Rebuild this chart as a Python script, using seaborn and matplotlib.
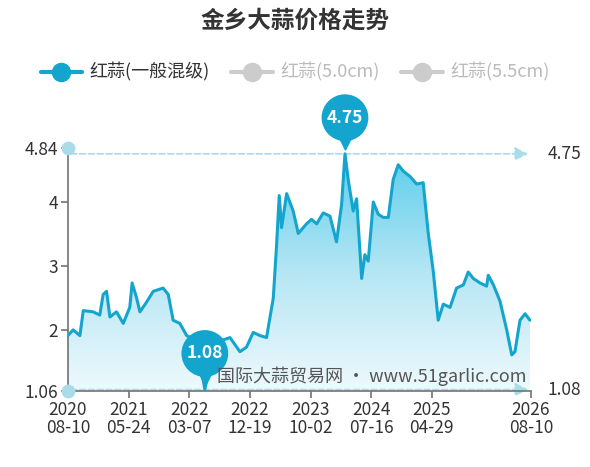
import numpy as np
import matplotlib
matplotlib.use("Agg")
import matplotlib.pyplot as plt
import seaborn as sns
from matplotlib.lines import Line2D

sns.set_theme(style="white")
plt.rcParams['font.family'] = ['Noto Sans CJK SC', 'DejaVu Sans']

# days since 2020-08-10, price (yuan/jin)
days = [0, 25, 57, 73, 120, 151, 167, 183, 199, 230, 262, 293, 304, 325, 341, 372, 404, 451,
        475, 498, 530, 562, 609, 648, 688, 767, 814, 845, 877, 909, 940, 972, 987, 1000, 1011,
        1035, 1066, 1090, 1129, 1153, 1177, 1208, 1240, 1271, 1295, 1311, 1327, 1350, 1366,
        1390, 1405, 1421, 1445, 1468, 1492, 1516, 1539, 1563, 1587, 1618, 1650, 1681, 1705,
        1729, 1752, 1776, 1808, 1839, 1871, 1894, 1918, 1950, 1981, 1989, 2013, 2044, 2076,
        2100, 2115, 2139, 2163, 2186]
prices = [1.92, 2.01, 1.92, 2.31, 2.29, 2.24, 2.56, 2.61, 2.21, 2.29, 2.11, 2.36, 2.74, 2.51,
          2.29, 2.44, 2.61, 2.66, 2.56, 2.16, 2.11, 1.92, 1.85, 1.08, 1.80, 1.89, 1.67, 1.74,
          1.97, 1.92, 1.89, 2.51, 3.31, 4.10, 3.60, 4.13, 3.86, 3.51, 3.66, 3.73, 3.66, 3.83,
          3.78, 3.38, 3.96, 4.75, 4.33, 3.86, 4.05, 2.81, 3.18, 3.08, 4.00, 3.81, 3.76, 3.76,
          4.35, 4.58, 4.48, 4.40, 4.28, 4.30, 3.51, 2.91, 2.16, 2.41, 2.36, 2.66, 2.71, 2.91,
          2.81, 2.74, 2.69, 2.86, 2.71, 2.46, 2.01, 1.62, 1.67, 2.16, 2.26, 2.16]
tick_days = [0, 287, 574, 861, 1148, 1435, 1722, 2191]
tick_labels = ["2020\n08-10", "2021\n05-24", "2022\n03-07", "2022\n12-19", "2023\n10-02",
               "2024\n07-16", "2025\n04-29", "2026\n08-10"]
y_ticks = [1.06, 2, 3, 4, 4.84]
y_min, y_max = 1.06, 4.84
hi, lo = 4.75, 1.08

blue = "#14a5cf"
pale = "#a9dce8"

fig = plt.figure(figsize=(5.9, 4.67), dpi=100)
ax = fig.add_axes([0.115, 0.163, 0.785, 0.52])

# gradient fill under the line
poly = ax.fill_between(days, prices, y_min, color="none", lw=0)
grad = np.linspace(0, 1, 256).reshape(-1, 1)
cmap = matplotlib.colors.LinearSegmentedColormap.from_list("g", ["#eef9fd", "#b5e6f4", "#5ccdec"])
im = ax.imshow(grad, cmap=cmap, aspect="auto", origin="lower",
               extent=[0, days[-1], y_min, max(prices)], zorder=1)
im.set_clip_path(poly.get_paths()[0], transform=ax.transData)

sns.lineplot(x=days, y=prices, ax=ax, color=blue, lw=2.2, zorder=3)

# reference lines
for val in [hi, lo]:
    ax.annotate("", xy=(2191, val), xytext=(0, val), zorder=2,
                arrowprops=dict(arrowstyle="-|>", ls="--", color=pale, lw=1.2, mutation_scale=20))
    ax.text(2270, val, f"{val:.2f}", va="center", ha="left", fontsize=12.5, color="#333333",
            clip_on=False)
ax.scatter([0, 0], [y_max, y_min], s=80, color=pale, zorder=4, clip_on=False)

# pin markers
for d, v in [(1311, hi), (648, lo)]:
    ax.scatter([d], [v], marker="v", s=150, color=blue, zorder=5, clip_on=False,
               transform=ax.transData + matplotlib.transforms.ScaledTranslation(0, 9/72, fig.dpi_scale_trans))
    ax.annotate(f"{v:.2f}", xy=(d, v), xytext=(0, 26), textcoords="offset points",
                ha="center", va="center", fontsize=12.5, color="white", fontweight="bold",
                bbox=dict(boxstyle="circle,pad=0.3", fc=blue, ec="none"), zorder=6)

ax.text(2191 * 0.99, 1.14, "国际大蒜贸易网 · www.51garlic.com", ha="right", va="bottom",
        fontsize=13, color="#555555", zorder=6)

ax.set_xlim(0, 2191)
ax.set_ylim(y_min, y_max)
ax.set_xticks(tick_days)
ax.set_xticklabels(tick_labels, fontsize=12.5, color="#333333", linespacing=1.0)
ax.set_yticks(y_ticks)
ax.set_yticklabels(["1.06", "2", "3", "4", "4.84"], fontsize=12.5, color="#333333")
for s in ["top", "right"]:
    ax.spines[s].set_visible(False)
for s in ["left", "bottom"]:
    ax.spines[s].set_color("#777777")
ax.tick_params(axis="both", length=5, color="#777777", direction="out", bottom=True, left=True, pad=2)

fig.text(0.5, 0.955, "金乡大蒜价格走势", ha="center", va="center", fontsize=17, fontweight="bold",
         color="#333333")
handles = [Line2D([], [], color=c, lw=3, marker="o", ms=13) for c in [blue, "#cccccc", "#cccccc"]]
leg = fig.legend(handles, ["红蒜(一般混级)", "红蒜(5.0cm)", "红蒜(5.5cm)"], loc="center",
                 bbox_to_anchor=(0.5, 0.845), ncol=3, frameon=False, fontsize=13,
                 handlelength=2.3, columnspacing=1.2, handletextpad=0.4)
for t, c in zip(leg.get_texts(), ["#333333", "#bbbbbb", "#bbbbbb"]):
    t.set_color(c)

fig.savefig("out.png", dpi=100)
